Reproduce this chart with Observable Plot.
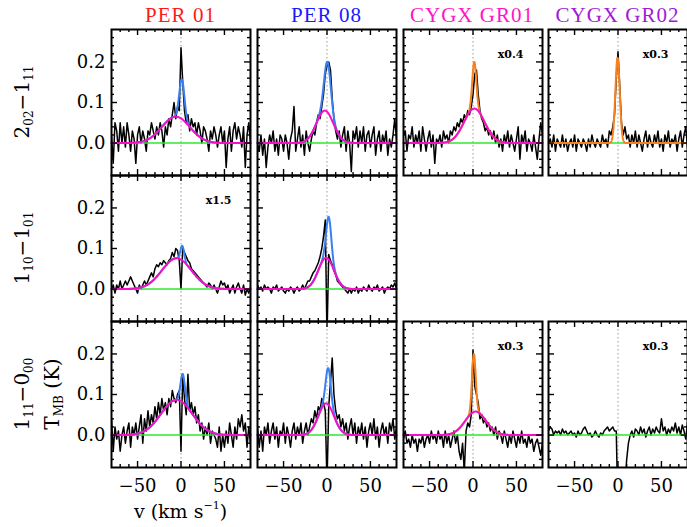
<!DOCTYPE html>
<html>
<head>
<meta charset="utf-8">
<script src="https://cdn.jsdelivr.net/npm/d3@7"></script>
<script src="https://cdn.jsdelivr.net/npm/@observablehq/plot@0.6"></script>
<style>
  body { margin: 0; background: #fff; }
  #fig { position: relative; width: 687px; height: 527px; font-family: "DejaVu Serif", serif; overflow: hidden; }
  .abs { position: absolute; white-space: nowrap; }
  .title { font-family: "Liberation Serif", serif; font-size: 21px; transform: translate(-50%, -50%); letter-spacing: 1px; }
  .rowlab { font-size: 20px; transform: translate(-50%, -50%) rotate(-90deg); }
  .rowlab sub { font-size: 12px; vertical-align: -4px; }
  .xtitle { font-size: 19px; transform: translate(-50%, -50%); }
  .xtitle sup { font-size: 11px; vertical-align: 9px; }
  svg { overflow: visible; }
</style>
</head>
<body>
<div id="fig"></div>
<script>
// ---- sources (columns) and transitions (rows) ----
const sources = ["PER 01", "PER 08", "CYGX GR01", "CYGX GR02"];
const sourceColors = ["#ff1a1a", "#1a1aff", "#ff14c8", "#a01ad8"];
const transitions = ["2<sub>02</sub>\u22121<sub>11</sub>", "1<sub>10</sub>\u22121<sub>01</sub>", "1<sub>11</sub>\u22120<sub>00</sub>"];

// channel grid of every spectrum: first channel and spacing (km/s)
const vStart = -80, vStep = 2;

// ---- spectra, T_MB in K ----
const per01_202 = [0.02,-0.05,0.05,0.03,-0.02,0.05,0.00,0.04,-0.01,0.05,0.02,-0.02,0.03,0.01,-0.05,0.02,0.04,0.00,0.03,0.01,-0.02,0.03,0.02,0.05,0.03,0.01,0.04,0.02,0.05,0.03,-0.01,0.04,0.02,0.06,0.04,0.07,0.10,0.06,0.09,0.08,0.235,0.15,0.08,0.05,0.07,0.03,0.06,0.04,0.05,0.02,0.05,0.03,0.00,0.04,0.03,0.01,-0.02,0.03,0.01,0.04,0.02,-0.01,0.02,0.04,0.00,0.03,-0.06,0.01,0.04,-0.02,0.03,0.05,0.01,0.04,0.02,-0.01,0.04,-0.06,0.02,0.05,0.00];
const per08_202 = [0.00,-0.02,0.02,-0.03,0.01,-0.06,-0.01,0.02,0.00,0.03,-0.02,0.01,-0.03,0.02,0.01,-0.02,0.02,0.00,-0.04,0.01,0.03,0.09,-0.02,0.01,0.04,-0.01,0.02,-0.03,0.03,0.00,-0.02,0.01,0.03,0.02,0.05,0.07,0.06,0.09,0.12,0.17,0.19,0.20,0.18,0.11,0.06,0.03,0.01,0.03,-0.01,0.02,0.04,-0.02,0.03,0.00,-0.07,0.03,0.01,0.04,-0.01,0.03,0.00,0.04,-0.02,0.02,0.03,-0.01,0.02,0.04,-0.03,0.01,0.03,-0.02,0.02,0.00,0.03,-0.03,0.01,-0.01,0.02,0.06,0.01];
const gr01_202 = [0.02,0.03,-0.02,0.02,0.01,0.04,-0.01,0.02,0.00,0.03,-0.02,0.04,0.01,-0.02,0.01,0.03,-0.01,0.02,-0.05,0.01,0.00,0.02,-0.01,0.03,0.01,0.02,0.00,0.03,0.02,0.04,0.03,0.05,0.04,0.06,0.05,0.07,0.06,0.08,0.07,0.09,0.12,0.17,0.18,0.12,0.08,0.06,0.05,0.03,0.04,0.02,0.03,0.01,0.03,0.00,0.02,-0.01,0.01,-0.02,0.02,0.00,0.03,-0.01,0.02,0.00,-0.02,0.01,0.04,-0.04,0.02,0.00,0.03,-0.02,0.01,0.00,-0.02,0.02,-0.01,-0.04,0.01,0.05,0.02];
const gr02_202 = [0.00,0.01,-0.01,0.02,-0.02,0.01,0.00,-0.01,0.02,-0.01,0.01,-0.02,0.00,0.01,-0.01,0.02,-0.02,0.01,0.00,-0.01,0.01,0.00,-0.02,0.01,-0.01,0.02,0.00,-0.01,0.01,0.00,-0.01,0.02,0.00,0.01,-0.01,0.03,0.02,0.04,0.07,0.16,0.225,0.14,0.05,0.02,0.04,0.01,0.02,-0.01,0.02,0.00,0.03,-0.01,0.02,0.00,-0.02,0.01,0.03,-0.01,0.02,0.00,-0.01,0.02,0.00,0.03,-0.01,0.01,-0.02,0.02,0.00,0.03,-0.01,0.01,0.00,0.02,-0.02,0.01,0.03,-0.01,0.02,0.04,-0.01];
const per01_110 = [0.00,0.01,-0.01,0.01,0.00,0.02,0.00,0.01,0.02,0.01,0.02,0.03,0.02,0.01,0.00,-0.01,0.01,0.00,0.01,0.02,0.01,0.02,0.03,0.04,0.03,0.05,0.06,0.055,0.065,0.06,0.07,0.065,0.06,0.07,0.075,0.09,0.08,0.10,0.095,0.07,0.00,0.10,0.09,0.08,0.07,0.065,0.05,0.045,0.04,0.035,0.03,0.025,0.02,0.015,0.01,0.005,0.015,0.01,0.00,0.01,0.00,-0.01,0.005,0.02,0.01,0.015,0.00,0.01,-0.01,0.00,0.01,-0.01,0.005,0.015,0.00,-0.01,0.01,-0.015,0.00,-0.01,0.005];
const per08_110 = [0.01,0.00,0.005,-0.005,0.01,0.00,0.005,0.00,-0.01,0.005,0.00,0.01,-0.005,0.00,0.005,-0.005,-0.01,0.00,-0.005,0.005,0.00,-0.01,0.00,0.005,-0.005,0.00,0.01,0.00,0.01,0.02,0.02,0.03,0.04,0.045,0.055,0.065,0.08,0.10,0.13,0.17,-0.12,0.085,0.07,0.06,0.045,0.035,0.02,0.015,0.01,0.005,0.00,-0.005,-0.01,0.00,-0.01,0.00,-0.005,0.005,-0.01,0.00,-0.005,0.005,0.00,-0.005,0.01,0.00,-0.005,0.005,0.00,0.01,-0.005,0.00,0.005,-0.01,0.00,0.005,0.00,0.01,0.005,0.015,0.00];
const per01_111 = [0.04,-0.04,0.02,-0.01,0.01,-0.04,0.00,0.02,-0.02,0.01,0.03,-0.03,0.02,0.00,0.03,-0.01,0.02,0.05,-0.02,0.04,0.01,0.06,0.02,0.05,0.03,0.07,0.04,0.08,0.05,0.09,0.06,0.08,0.05,0.09,0.07,0.11,0.09,0.08,0.10,0.11,-0.04,0.15,0.09,0.05,0.15,0.06,0.08,0.05,0.07,0.03,0.05,0.01,0.03,-0.01,0.02,0.00,0.03,-0.02,0.01,0.00,-0.01,-0.03,0.02,-0.04,0.00,-0.03,0.01,-0.02,0.03,0.00,-0.03,0.02,-0.01,0.04,0.02,0.05,0.01,0.03,-0.03,0.02,-0.02];
const per08_111 = [0.02,-0.03,0.01,-0.04,0.02,0.00,0.03,-0.02,0.01,0.03,-0.01,0.02,-0.03,0.01,0.00,0.03,-0.02,0.02,0.00,-0.03,0.01,0.03,-0.01,0.02,0.00,0.03,-0.02,0.01,0.03,0.00,0.02,0.04,0.03,0.06,0.04,0.07,0.06,0.09,0.08,0.06,-0.12,0.07,0.13,0.19,0.10,0.06,0.04,0.05,0.02,0.04,0.01,0.03,-0.01,0.02,0.04,0.00,0.03,-0.02,0.02,0.00,0.03,-0.01,0.02,-0.03,0.01,0.03,0.00,0.04,-0.01,0.02,-0.03,0.01,0.03,0.00,0.02,-0.02,0.03,0.01,0.04,-0.01,0.02];
const gr01_111 = [-0.01,0.01,-0.02,-0.01,-0.03,0.00,-0.02,-0.01,-0.04,-0.01,-0.02,0.00,-0.03,-0.01,0.00,-0.02,0.01,-0.01,0.00,-0.02,0.01,-0.01,0.00,-0.03,0.01,-0.02,0.00,-0.03,-0.01,0.01,-0.02,0.00,-0.04,-0.06,-0.02,-0.09,0.01,0.03,0.02,0.05,0.21,0.12,0.10,0.08,0.04,0.05,0.03,0.04,0.02,0.03,0.01,0.02,0.00,0.02,-0.01,0.01,0.00,-0.02,0.01,-0.01,-0.03,0.00,-0.02,0.01,-0.01,-0.03,0.00,-0.02,0.01,-0.02,-0.01,-0.03,0.00,-0.02,-0.01,-0.04,-0.02,-0.01,-0.03,-0.05,-0.02];
const gr02_111 = [0.01,0.02,0.015,0.00,0.01,0.005,0.01,0.00,0.015,0.005,0.01,0.00,0.005,0.01,0.00,0.005,-0.005,0.01,0.00,0.005,0.015,0.02,0.01,0.00,0.005,-0.005,0.00,0.01,0.00,-0.005,0.005,0.00,0.01,0.015,0.02,0.01,0.015,0.02,0.01,0.01,-0.2,-0.3,-0.3,-0.2,-0.12,-0.06,-0.02,0.00,0.01,-0.005,0.015,0.01,0.00,0.02,0.005,0.015,-0.005,0.01,0.02,0.00,0.015,0.005,0.02,0.01,0.005,0.04,0.01,0.02,0.00,0.015,0.005,0.02,0.01,0.03,0.005,0.02,0.00,0.025,0.01,-0.01,0.03];

// ---- Gaussian fit components: [peak K, centre km/s, FWHM km/s] ----
const broadFits = {
  per01_202: [0.065, -6, 38], per08_202: [0.080, -2.5, 23], gr01_202: [0.085, 1.5, 28],
  per01_110: [0.076, -5, 40], per08_110: [0.077, -1, 21],
  per01_111: [0.087, -5, 42], per08_111: [0.078, -1, 21], gr01_111: [0.058, 3, 28]
};
const narrowFits = {
  per01_202: [0.098, 1, 7], per08_202: [0.124, 0.5, 9], gr01_202: [0.115, 1.5, 5.5], gr02_202: [0.21, -0.5, 6],
  per01_110: [0.036, 1.5, 5], per08_110: [0.105, 2, 7],
  per01_111: [0.07, 2, 6], per08_111: [0.09, 1.5, 7], gr01_111: [0.143, 1, 5]
};
// intensity multipliers quoted in the panels
const scaleNotes = { gr01_202: "x0.4", gr02_202: "x0.3", per01_110: "x1.5", gr01_111: "x0.3", gr02_111: "x0.3" };

// ---- axis ticks ----
const xMajor = [-50, 0, 50];
const xMinor = [-70, -60, -40, -30, -20, -10, 10, 20, 30, 40, 60, 70];
const yMajor = [0, 0.1, 0.2];
const yMinor = [-0.06, -0.04, -0.02, 0.02, 0.04, 0.06, 0.08, 0.12, 0.14, 0.16, 0.18, 0.22, 0.24, 0.26];

const panels = [
  {key: "per01_202", row: 0, col: 0, spec: per01_202},
  {key: "per08_202", row: 0, col: 1, spec: per08_202},
  {key: "gr01_202",  row: 0, col: 2, spec: gr01_202},
  {key: "gr02_202",  row: 0, col: 3, spec: gr02_202},
  {key: "per01_110", row: 1, col: 0, spec: per01_110},
  {key: "per08_110", row: 1, col: 1, spec: per08_110},
  {key: "per01_111", row: 2, col: 0, spec: per01_111},
  {key: "per08_111", row: 2, col: 1, spec: per08_111},
  {key: "gr01_111",  row: 2, col: 2, spec: gr01_111},
  {key: "gr02_111",  row: 2, col: 3, spec: gr02_111}
];

// ---- layout ----
const colLeft = [111, 257, 402.5, 548];
const rowTop = [29, 175, 321];
const W = 139, H = 146;
const fitGrid = d3.range(-80, 80.01, 0.25);
const gaussian = ([a, c, w], v) => a * Math.exp(-4 * Math.LN2 * ((v - c) / w) ** 2);
const minus = d => (d < 0 ? "\u2212" + Math.abs(d) : String(d));

const fig = document.getElementById("fig");

function drawPanel(p) {
  const ml = p.col === 0 ? 60 : 0;
  const mb = p.row === 2 ? 32 : 0;
  const data = p.spec.map((t, i) => ({v: vStart + i * vStep, t}));
  const broad = broadFits[p.key];
  const narrow = narrowFits[p.key];
  const isPer = p.col < 2;
  const marks = [
    Plot.ruleX([0], {stroke: "#9a9a9a", strokeDasharray: "1.5,2.5", strokeWidth: 1}),
    Plot.line(data, {x: "v", y: "t", stroke: "black", strokeWidth: 1.5, clip: true}),
    Plot.ruleY([0], {stroke: "#2ee82e", strokeWidth: 1.6})
  ];
  if (narrow) {
    const comps = broad ? [broad, narrow] : [narrow];
    const total = fitGrid.map(v => ({v, t: d3.sum(comps, c => gaussian(c, v))}));
    marks.push(Plot.line(total, {x: "v", y: "t", stroke: isPer ? "#3a80f2" : "#f5821f", strokeWidth: 2}));
  }
  if (broad) {
    const b = fitGrid.map(v => ({v, t: gaussian(broad, v)}));
    marks.push(Plot.line(b, {x: "v", y: "t", stroke: "#f510c8", strokeWidth: 2}));
  }
  // inward ticks on all four sides
  const tk = {strokeWidth: 1.4, stroke: "black"};
  marks.push(
    Plot.ruleX(xMajor, {x: d => d, insetTop: H - 6, ...tk}),
    Plot.ruleX(xMinor, {x: d => d, insetTop: H - 3, ...tk}),
    Plot.ruleX(xMajor, {x: d => d, insetBottom: H - 6, ...tk}),
    Plot.ruleX(xMinor, {x: d => d, insetBottom: H - 3, ...tk}),
    Plot.ruleY(yMajor, {y: d => d, insetRight: W - 6, ...tk}),
    Plot.ruleY(yMinor, {y: d => d, insetRight: W - 3, ...tk}),
    Plot.ruleY(yMajor, {y: d => d, insetLeft: W - 6, ...tk}),
    Plot.ruleY(yMinor, {y: d => d, insetLeft: W - 3, ...tk}),
    Plot.frame({stroke: "black", strokeWidth: 2})
  );
  if (scaleNotes[p.key]) {
    marks.push(Plot.text([scaleNotes[p.key]], {frameAnchor: "top-right", dx: -19, dy: 21, textAnchor: "end", fontWeight: "bold", fontSize: 11, fill: "black"}));
  }
  if (p.col === 0) {
    marks.push(Plot.axisY(yMajor, {tickSize: 0, tickPadding: 6, tickFormat: d => d.toFixed(1), fontSize: 18, label: null}));
  }
  if (p.row === 2) {
    marks.push(Plot.axisX(xMajor, {tickSize: 0, tickPadding: 12, tickFormat: minus, fontSize: 18, label: null}));
  }
  const svg = Plot.plot({
    width: W + ml, height: H + mb,
    marginLeft: ml, marginRight: 0, marginTop: 0, marginBottom: mb,
    x: {domain: [-80, 80], ...(p.row === 2 ? {} : {axis: null})},
    y: {domain: [-0.08, 0.28], ...(p.col === 0 ? {} : {axis: null})},
    style: {fontFamily: "'DejaVu Serif', serif", background: "transparent", overflow: "visible", color: "black"},
    marks
  });
  svg.style.position = "absolute";
  svg.style.left = (colLeft[p.col] - ml) + "px";
  svg.style.top = rowTop[p.row] + "px";
  fig.appendChild(svg);
}

panels.forEach(drawPanel);

// column titles
sources.forEach((s, i) => {
  const d = document.createElement("div");
  d.className = "abs title";
  d.style.left = (colLeft[i] + W / 2) + "px";
  d.style.top = "15px";
  d.style.color = sourceColors[i];
  d.textContent = s;
  fig.appendChild(d);
});

// row (transition) labels
transitions.forEach((t, i) => {
  const d = document.createElement("div");
  d.className = "abs rowlab";
  d.style.left = "23px";
  d.style.top = (rowTop[i] + H / 2) + "px";
  d.innerHTML = t;
  fig.appendChild(d);
});

// y-axis title
const yt = document.createElement("div");
yt.className = "abs rowlab";
yt.style.left = "53px";
yt.style.top = (rowTop[2] + H / 2) + "px";
yt.innerHTML = "T<sub>MB</sub> (K)";
fig.appendChild(yt);

// x-axis title
const xt = document.createElement("div");
xt.className = "abs xtitle";
xt.style.left = (colLeft[0] + W / 2) + "px";
xt.style.top = "510px";
xt.innerHTML = "v (km s<sup>\u22121</sup>)";
fig.appendChild(xt);
</script>
</body>
</html>
